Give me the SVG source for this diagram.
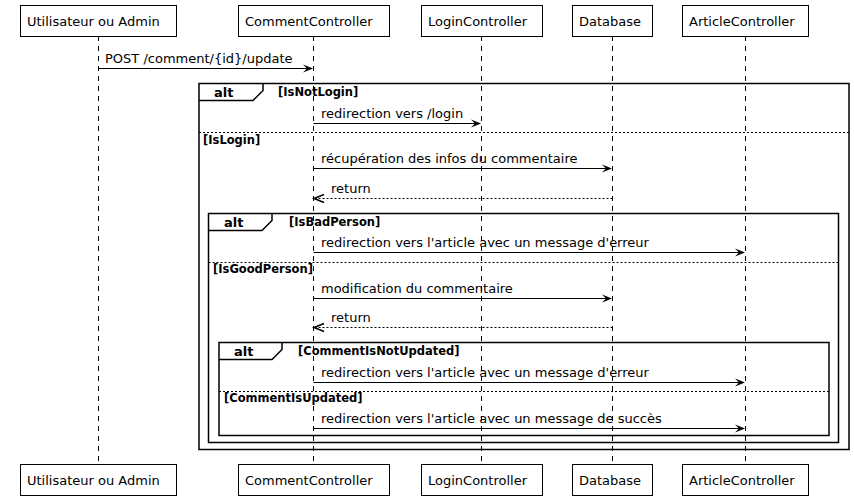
<svg xmlns="http://www.w3.org/2000/svg" width="854" height="501" viewBox="0 0 854 501">
<style>
text{font-family:"DejaVu Sans","Noto Sans",sans-serif;fill:#000}
.p{font-size:13px}
.m{font-size:13px}
.g{font-size:11.5px;font-weight:bold}
.a{font-size:13px;font-weight:bold}
.box{fill:#fff;stroke:#000;stroke-width:1}
.life{stroke:#000;stroke-width:1;stroke-dasharray:5,5}
.msg{stroke:#000;stroke-width:1;fill:none}
.head{stroke:#000;stroke-width:1.5;fill:none}
.ret{stroke:#000;stroke-width:1;fill:none;stroke-dasharray:2,2}
.frame{fill:none;stroke:#000;stroke-width:1.5}
.sep{stroke:#000;stroke-width:1;stroke-dasharray:2,2}
</style>
<rect width="854" height="501" fill="#fff"/>
<g id="lifelines">
<line class="life" x1="98.5" y1="36" x2="98.5" y2="465"/>
<line class="life" x1="313.5" y1="36" x2="313.5" y2="465"/>
<line class="life" x1="481.5" y1="36" x2="481.5" y2="465"/>
<line class="life" x1="612.5" y1="36" x2="612.5" y2="465"/>
<line class="life" x1="745.5" y1="36" x2="745.5" y2="465"/>
</g>
<g id="user">
<rect class="box" x="20.5" y="5.5" width="156" height="31"/>
<text class="p" x="27" y="26">Utilisateur ou Admin</text>
<rect class="box" x="20.5" y="464.5" width="156" height="31"/>
<text class="p" x="27" y="485">Utilisateur ou Admin</text>
</g>
<g id="comment">
<rect class="box" x="238.5" y="5.5" width="151" height="31"/>
<text class="p" x="245" y="26">CommentController</text>
<rect class="box" x="238.5" y="464.5" width="151" height="31"/>
<text class="p" x="245" y="485">CommentController</text>
</g>
<g id="login">
<rect class="box" x="421.5" y="5.5" width="121" height="31"/>
<text class="p" x="428" y="26">LoginController</text>
<rect class="box" x="421.5" y="464.5" width="121" height="31"/>
<text class="p" x="428" y="485">LoginController</text>
</g>
<g id="database">
<rect class="box" x="572.5" y="5.5" width="80" height="31"/>
<text class="p" x="579" y="26">Database</text>
<rect class="box" x="572.5" y="464.5" width="80" height="31"/>
<text class="p" x="579" y="485">Database</text>
</g>
<g id="article">
<rect class="box" x="682.5" y="5.5" width="126" height="31"/>
<text class="p" x="689" y="26">ArticleController</text>
<rect class="box" x="682.5" y="464.5" width="126" height="31"/>
<text class="p" x="689" y="485">ArticleController</text>
</g>
<g id="frames">
<rect class="frame" x="199" y="83.5" width="650" height="366"/>
<path class="frame" d="M199,100.5 L253,100.5 L263,90.5 L263,83.5"/>
<text class="a" x="214" y="97">alt</text>
<text class="g" x="278" y="96">[IsNotLogin]</text>
<line class="sep" x1="199" y1="132.5" x2="849" y2="132.5"/>
<text class="g" x="203" y="144">[IsLogin]</text>

<rect class="frame" x="208.5" y="213.5" width="630" height="229"/>
<path class="frame" d="M208.5,230.5 L262,230.5 L272,220.5 L272,213.5"/>
<text class="a" x="224" y="227">alt</text>
<text class="g" x="289" y="226">[IsBadPerson]</text>
<line class="sep" x1="208.5" y1="262.5" x2="838.5" y2="262.5"/>
<text class="g" x="213" y="273">[IsGoodPerson]</text>

<rect class="frame" x="219" y="342.5" width="610" height="93"/>
<path class="frame" d="M219,359.5 L272,359.5 L282,349.5 L282,342.5"/>
<text class="a" x="234" y="356">alt</text>
<text class="g" x="298" y="355">[CommentIsNotUpdated]</text>
<line class="sep" x1="219" y1="391.5" x2="829" y2="391.5"/>
<text class="g" x="224" y="402">[CommentIsUpdated]</text>
</g>
<g id="connectors">
<line class="msg" x1="98.5" y1="68.5" x2="312" y2="68.5"/>
<polygon points="303,64.5 313,68.5 303,72.5 307,68.5"/>
<text class="m" x="105" y="63">POST /comment/{id}/update</text>

<line class="msg" x1="313.5" y1="123.5" x2="480" y2="123.5"/>
<polygon points="471,119.5 481,123.5 471,127.5 475,123.5"/>
<text class="m" x="321" y="118">redirection vers /login</text>

<line class="msg" x1="313.5" y1="168.5" x2="611" y2="168.5"/>
<polygon points="602,164.5 612,168.5 602,172.5 606,168.5"/>
<text class="m" x="321" y="163">récupération des infos du commentaire</text>

<line class="ret" x1="612.5" y1="198.5" x2="315" y2="198.5"/>
<polyline class="head" points="324,194.5 314,198.5 324,202.5"/>
<text class="m" x="331" y="193">return</text>

<line class="msg" x1="313.5" y1="252.5" x2="744" y2="252.5"/>
<polygon points="735,248.5 745,252.5 735,256.5 739,252.5"/>
<text class="m" x="321" y="247">redirection vers l'article avec un message d'erreur</text>

<line class="msg" x1="313.5" y1="298.5" x2="611" y2="298.5"/>
<polygon points="602,294.5 612,298.5 602,302.5 606,298.5"/>
<text class="m" x="321" y="293">modification du commentaire</text>

<line class="ret" x1="612.5" y1="327.5" x2="315" y2="327.5"/>
<polyline class="head" points="324,323.5 314,327.5 324,331.5"/>
<text class="m" x="331" y="322">return</text>

<line class="msg" x1="313.5" y1="382.5" x2="744" y2="382.5"/>
<polygon points="735,378.5 745,382.5 735,386.5 739,382.5"/>
<text class="m" x="321" y="377">redirection vers l'article avec un message d'erreur</text>

<line class="msg" x1="313.5" y1="428.5" x2="744" y2="428.5"/>
<polygon points="735,424.5 745,428.5 735,432.5 739,428.5"/>
<text class="m" x="321" y="423">redirection vers l'article avec un message de succès</text>
</g>
</svg>
